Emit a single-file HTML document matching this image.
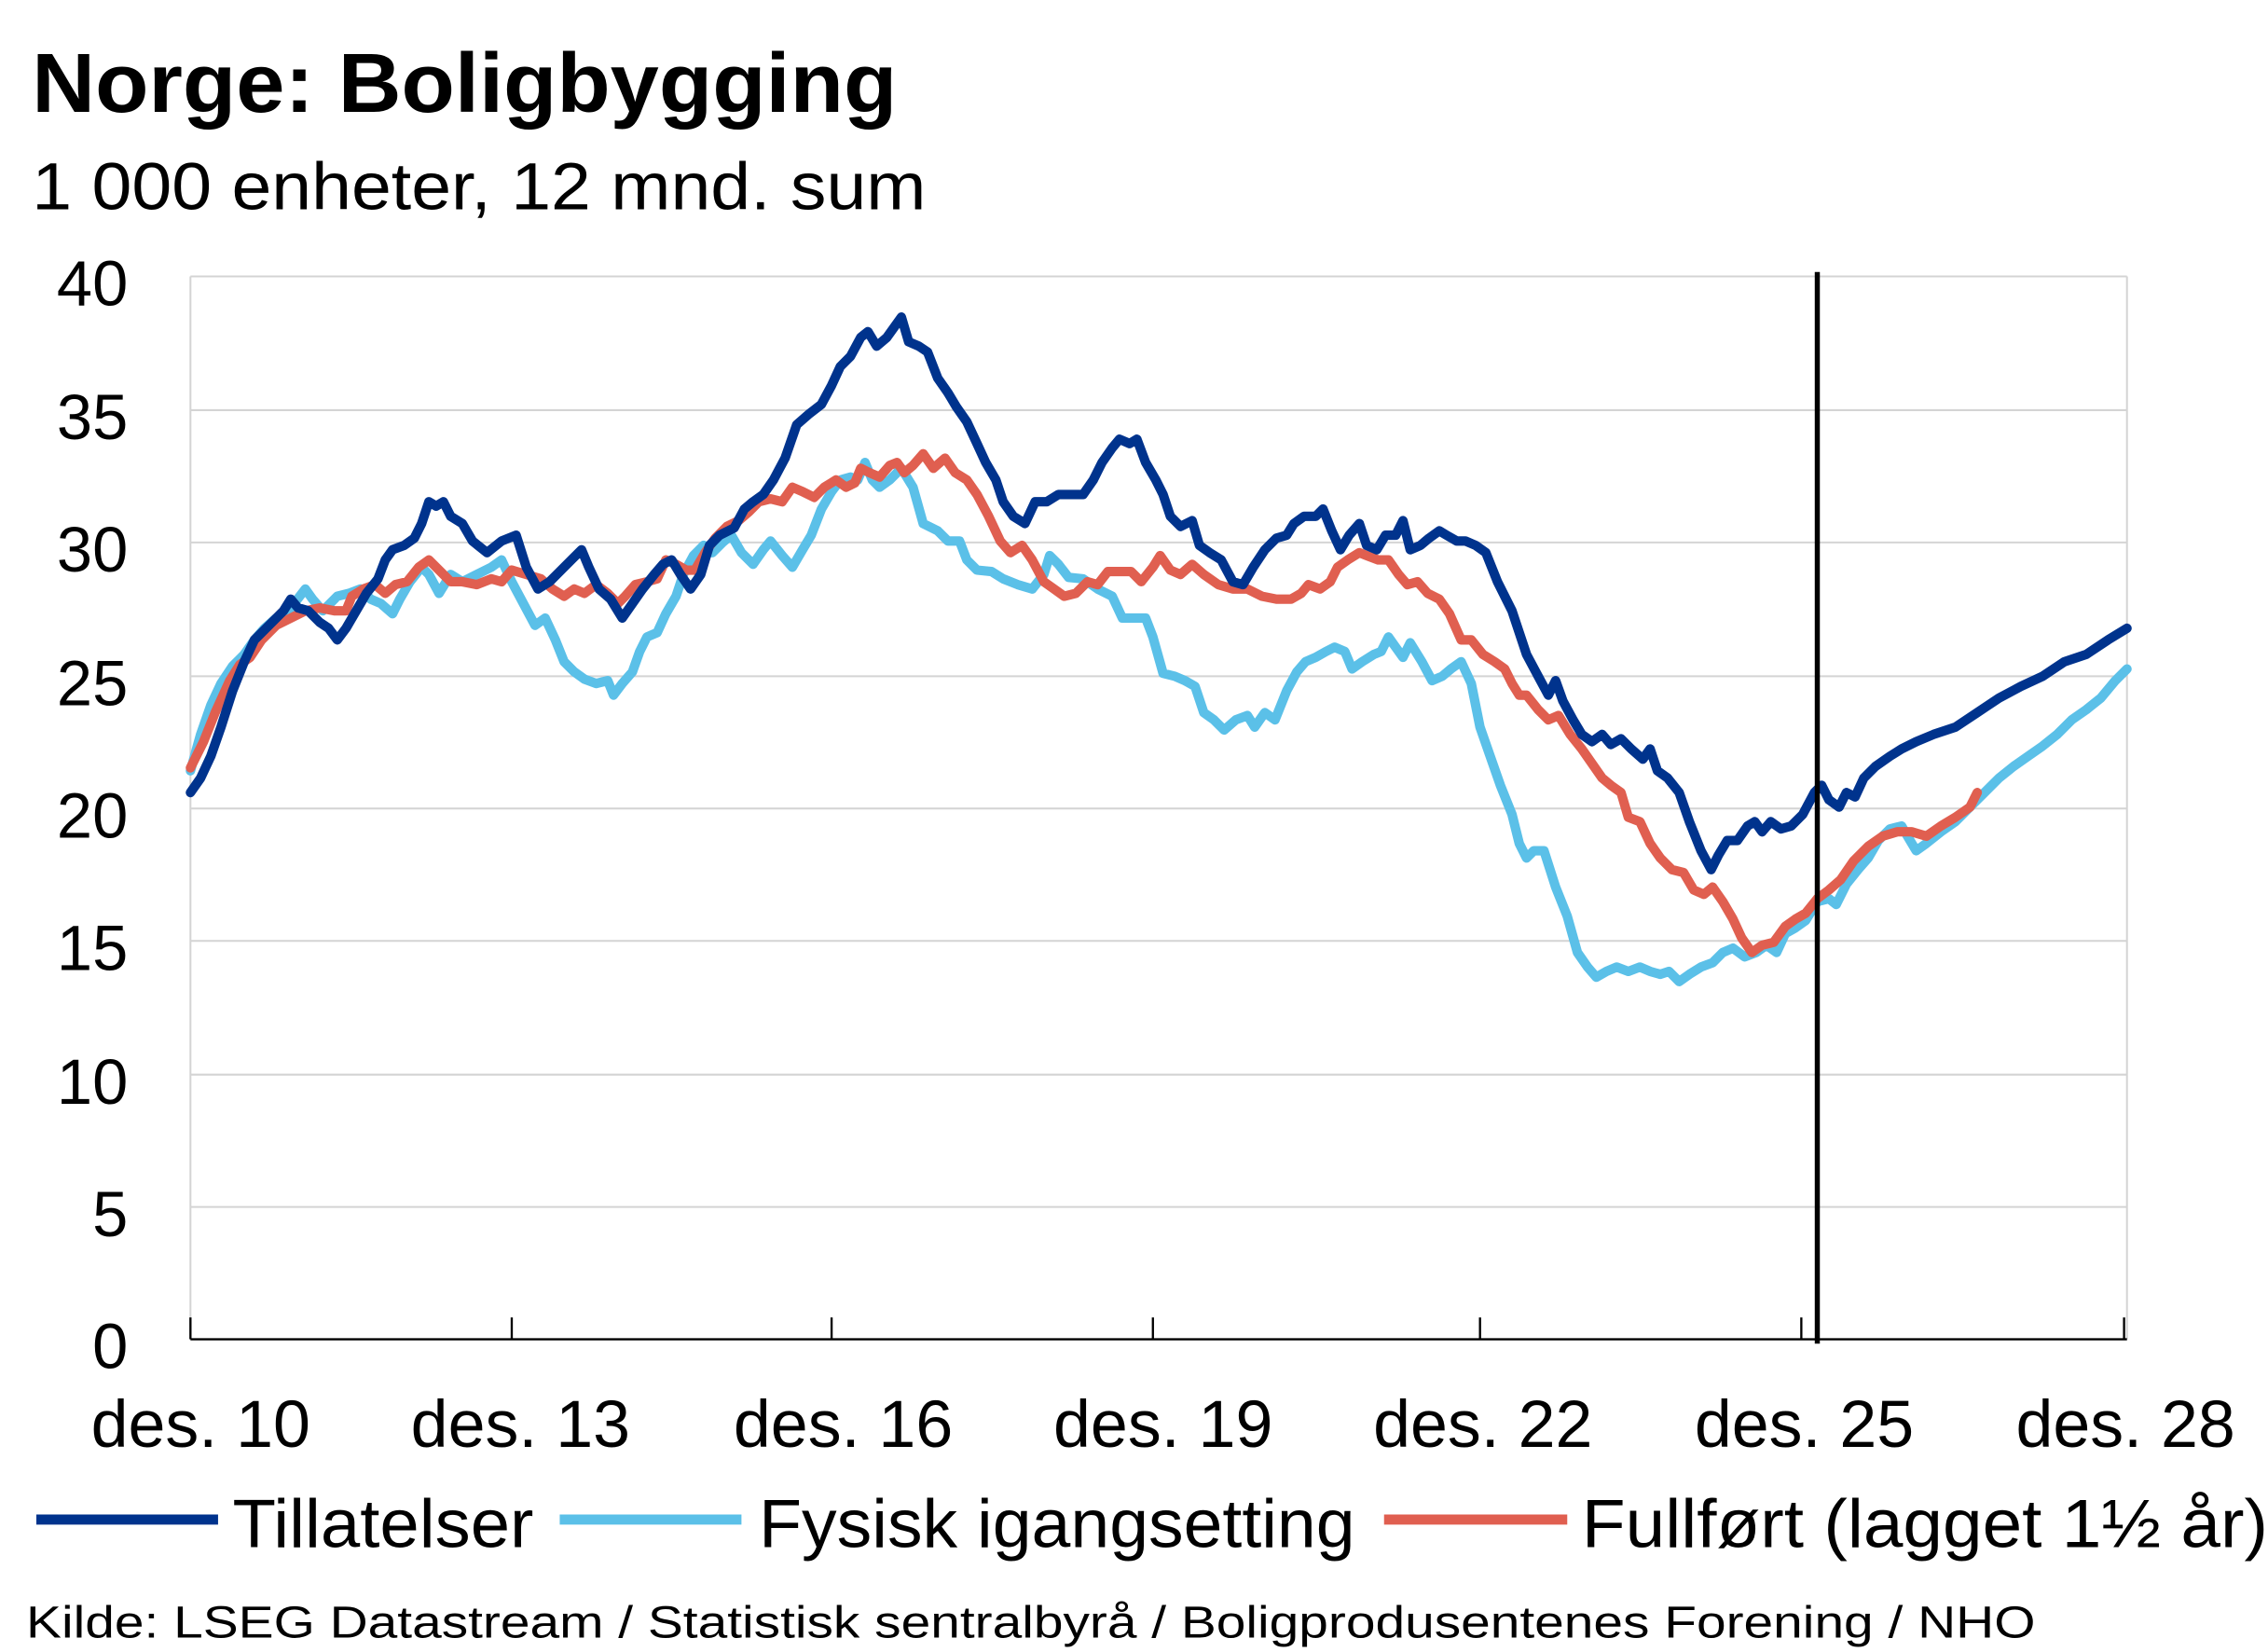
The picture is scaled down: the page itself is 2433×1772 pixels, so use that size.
<!DOCTYPE html>
<html><head><meta charset="utf-8"><style>
html,body{margin:0;padding:0;background:#fff}
svg{display:block}
text{font-family:"Liberation Sans",sans-serif;fill:#000}
</style></head><body>
<svg width="2433" height="1772" viewBox="0 0 1560 1136" xmlns="http://www.w3.org/2000/svg">
<text x="22" y="77" font-size="58" font-weight="bold" textLength="595" lengthAdjust="spacingAndGlyphs">Norge:  Boligbygging</text>
<text x="22" y="144" font-size="46" textLength="615" lengthAdjust="spacingAndGlyphs">1 000 enheter, 12 mnd. sum</text>
<g stroke="#d4d4d4" stroke-width="1.3" fill="none">
<line x1="131" y1="190" x2="1463" y2="190"/><line x1="131" y1="282" x2="1463" y2="282"/>
<line x1="131" y1="373" x2="1463" y2="373"/><line x1="131" y1="465" x2="1463" y2="465"/>
<line x1="131" y1="556" x2="1463" y2="556"/><line x1="131" y1="647" x2="1463" y2="647"/>
<line x1="131" y1="739" x2="1463" y2="739"/><line x1="131" y1="830" x2="1463" y2="830"/>
<line x1="131" y1="190" x2="131" y2="921"/><line x1="1463" y1="190" x2="1463" y2="921"/>
</g>
<g font-size="44" text-anchor="end">
<text x="88" y="210">40</text><text x="88" y="302">35</text><text x="88" y="393">30</text>
<text x="88" y="485">25</text><text x="88" y="576">20</text><text x="88" y="667">15</text>
<text x="88" y="759">10</text><text x="88" y="850">5</text><text x="88" y="941">0</text>
</g>
<g stroke="#000" stroke-width="1.5">
<line x1="131" y1="921" x2="1463" y2="921"/>
<line x1="131" y1="906" x2="131" y2="921"/><line x1="352" y1="906" x2="352" y2="921"/>
<line x1="572" y1="906" x2="572" y2="921"/><line x1="793" y1="906" x2="793" y2="921"/>
<line x1="1018" y1="906" x2="1018" y2="921"/><line x1="1239" y1="906" x2="1239" y2="921"/>
<line x1="1461" y1="906" x2="1461" y2="921"/>
</g>
<g font-size="46" text-anchor="middle">
<text x="138" y="995">des. 10</text><text x="358" y="995">des. 13</text><text x="580" y="995">des. 16</text>
<text x="800" y="995">des. 19</text><text x="1020" y="995">des. 22</text><text x="1241" y="995">des. 25</text>
<text x="1462" y="995">des. 28</text>
</g>
<g fill="none" stroke-width="6.5" stroke-linejoin="round" stroke-linecap="round">
<polyline stroke="#5bc0e8" points="131,530 138,505 145,485 152,470 160,458 168,450 175,440 182,432 190,425 200,418 210,405 215,412 222,420 232,410 240,408 248,405 255,412 262,415 270,422 275,412 282,400 290,390 295,395 302,408 310,395 318,400 328,395 338,390 345,385 352,400 360,415 368,430 375,425 382,440 388,455 395,462 402,467 410,470 418,468 422,478 428,470 435,462 440,448 445,438 452,435 458,422 465,410 470,395 477,382 484,375 490,380 497,373 503,368 510,380 518,388 525,378 530,372 538,382 545,390 552,378 558,368 565,350 572,338 578,330 585,328 590,330 595,318 600,330 605,335 612,330 620,322 628,335 635,360 645,365 652,372 660,372 665,385 672,392 682,393 690,398 700,402 710,405 718,395 722,382 728,388 735,397 745,398 755,405 765,410 772,425 780,425 788,425 793,438 800,463 808,465 815,468 822,472 828,490 835,495 842,502 850,495 858,492 863,500 870,490 877,495 885,475 892,462 898,455 905,452 912,448 918,445 925,448 930,460 937,455 945,450 950,448 955,438 960,445 965,452 970,442 978,455 985,468 992,465 998,460 1005,455 1012,470 1018,500 1025,520 1032,540 1040,560 1045,580 1050,590 1055,585 1062,585 1070,610 1078,630 1085,655 1092,665 1098,672 1105,668 1112,665 1120,668 1128,665 1135,668 1142,670 1148,668 1155,675 1162,670 1170,665 1178,662 1185,655 1192,652 1200,658 1208,655 1215,650 1222,655 1228,642 1235,638 1242,633 1250,620 1258,618 1263,622 1270,608 1278,598 1285,590 1292,578 1300,570 1308,568 1312,575 1318,585 1325,580 1335,572 1345,565 1355,555 1365,545 1375,535 1385,527 1395,520 1405,513 1415,505 1425,495 1435,488 1445,480 1455,468 1463,460"/>
<polyline stroke="#e05f50" points="131,528 140,510 148,490 158,468 165,457 172,452 180,440 190,430 200,425 210,420 220,418 230,420 238,420 242,410 250,405 258,402 265,408 272,402 280,400 288,390 295,385 302,392 310,400 318,400 328,402 338,398 345,400 352,392 362,395 372,398 380,405 388,410 395,405 402,408 410,402 418,408 425,415 430,410 437,402 445,400 452,398 458,385 465,388 472,392 478,392 485,380 492,370 500,362 508,358 515,352 522,345 530,343 538,345 545,335 552,338 560,342 567,335 575,330 582,335 588,332 592,322 598,325 605,328 612,320 617,318 622,325 628,320 635,312 642,322 650,315 657,325 665,330 672,340 680,355 688,372 695,380 703,375 710,385 718,400 725,405 732,410 740,408 748,400 755,402 762,393 770,393 778,393 785,400 793,390 798,382 805,392 812,395 820,388 828,395 838,402 848,405 858,405 868,410 878,412 888,412 895,408 900,402 908,405 915,400 920,390 927,385 935,380 940,382 948,385 955,385 962,395 968,402 975,400 982,408 990,412 997,422 1005,440 1012,440 1020,450 1028,455 1035,460 1040,470 1045,478 1050,478 1058,488 1065,495 1072,492 1080,505 1088,515 1095,525 1102,535 1108,540 1115,545 1120,562 1128,565 1135,580 1142,590 1150,598 1158,600 1165,612 1172,615 1178,610 1185,620 1192,632 1198,645 1205,655 1212,650 1220,648 1228,637 1235,632 1242,628 1250,618 1258,612 1266,605 1275,592 1285,582 1295,575 1305,572 1315,572 1325,575 1335,568 1345,562 1355,555 1360,545"/>
<polyline stroke="#00338d" points="131,545 138,535 145,520 152,500 160,475 168,455 175,440 185,430 195,420 200,412 205,418 212,420 220,428 226,432 232,440 238,432 245,420 252,408 260,398 265,385 270,378 278,375 285,370 290,360 295,345 300,348 305,345 310,355 318,360 325,372 335,380 345,372 355,368 362,390 370,405 378,400 385,393 393,385 400,378 405,390 412,405 420,412 428,425 435,415 442,405 450,395 456,388 462,385 468,395 475,405 482,395 488,375 495,368 505,363 512,350 518,345 525,340 532,330 540,315 548,292 556,285 565,278 572,265 578,252 585,245 592,232 597,228 603,238 610,232 615,225 620,218 625,235 632,238 638,242 645,260 652,270 658,280 665,290 672,305 678,318 685,330 690,345 697,355 705,360 712,345 720,345 728,340 738,340 745,340 752,330 758,318 765,308 770,302 777,305 782,302 788,318 795,330 800,340 805,355 812,362 820,358 825,375 832,380 840,385 848,400 855,402 862,390 870,378 878,370 885,368 890,360 897,355 905,355 910,350 916,365 922,378 928,368 935,360 940,375 947,378 953,368 960,368 965,358 970,378 977,375 983,370 990,365 995,368 1002,372 1008,372 1015,375 1022,380 1030,400 1040,420 1050,450 1058,465 1065,478 1070,468 1075,482 1082,495 1088,505 1095,510 1102,505 1108,512 1115,508 1122,515 1130,522 1135,515 1140,530 1147,535 1155,545 1162,565 1170,585 1177,598 1182,588 1188,578 1195,578 1202,568 1207,565 1212,572 1218,565 1225,570 1232,568 1240,560 1248,545 1253,540 1258,550 1265,555 1270,545 1276,548 1282,535 1290,527 1300,520 1308,515 1318,510 1330,505 1345,500 1360,490 1375,480 1390,472 1405,465 1420,455 1435,450 1450,440 1463,432"/>
</g>
<line x1="1250" y1="187" x2="1250" y2="924" stroke="#000" stroke-width="3.5"/>
<g stroke-width="7">
<line x1="25" y1="1045" x2="150" y2="1045" stroke="#00338d"/>
<line x1="385" y1="1045" x2="510" y2="1045" stroke="#5bc0e8"/>
<line x1="952" y1="1045" x2="1078" y2="1045" stroke="#e05f50"/>
</g>
<g font-size="47">
<text x="160" y="1064" textLength="207" lengthAdjust="spacingAndGlyphs">Tillatelser</text>
<text x="522" y="1064" textLength="410" lengthAdjust="spacingAndGlyphs">Fysisk igangsetting</text>
<text x="1088" y="1064" textLength="472" lengthAdjust="spacingAndGlyphs">Fullført (lagget 1½ år)</text>
</g>
<text x="18" y="1126" font-size="31" textLength="1382" lengthAdjust="spacingAndGlyphs">Kilde: LSEG Datastream / Statistisk sentralbyrå / Boligprodusentenes Forening / NHO</text>
</svg>
</body></html>
